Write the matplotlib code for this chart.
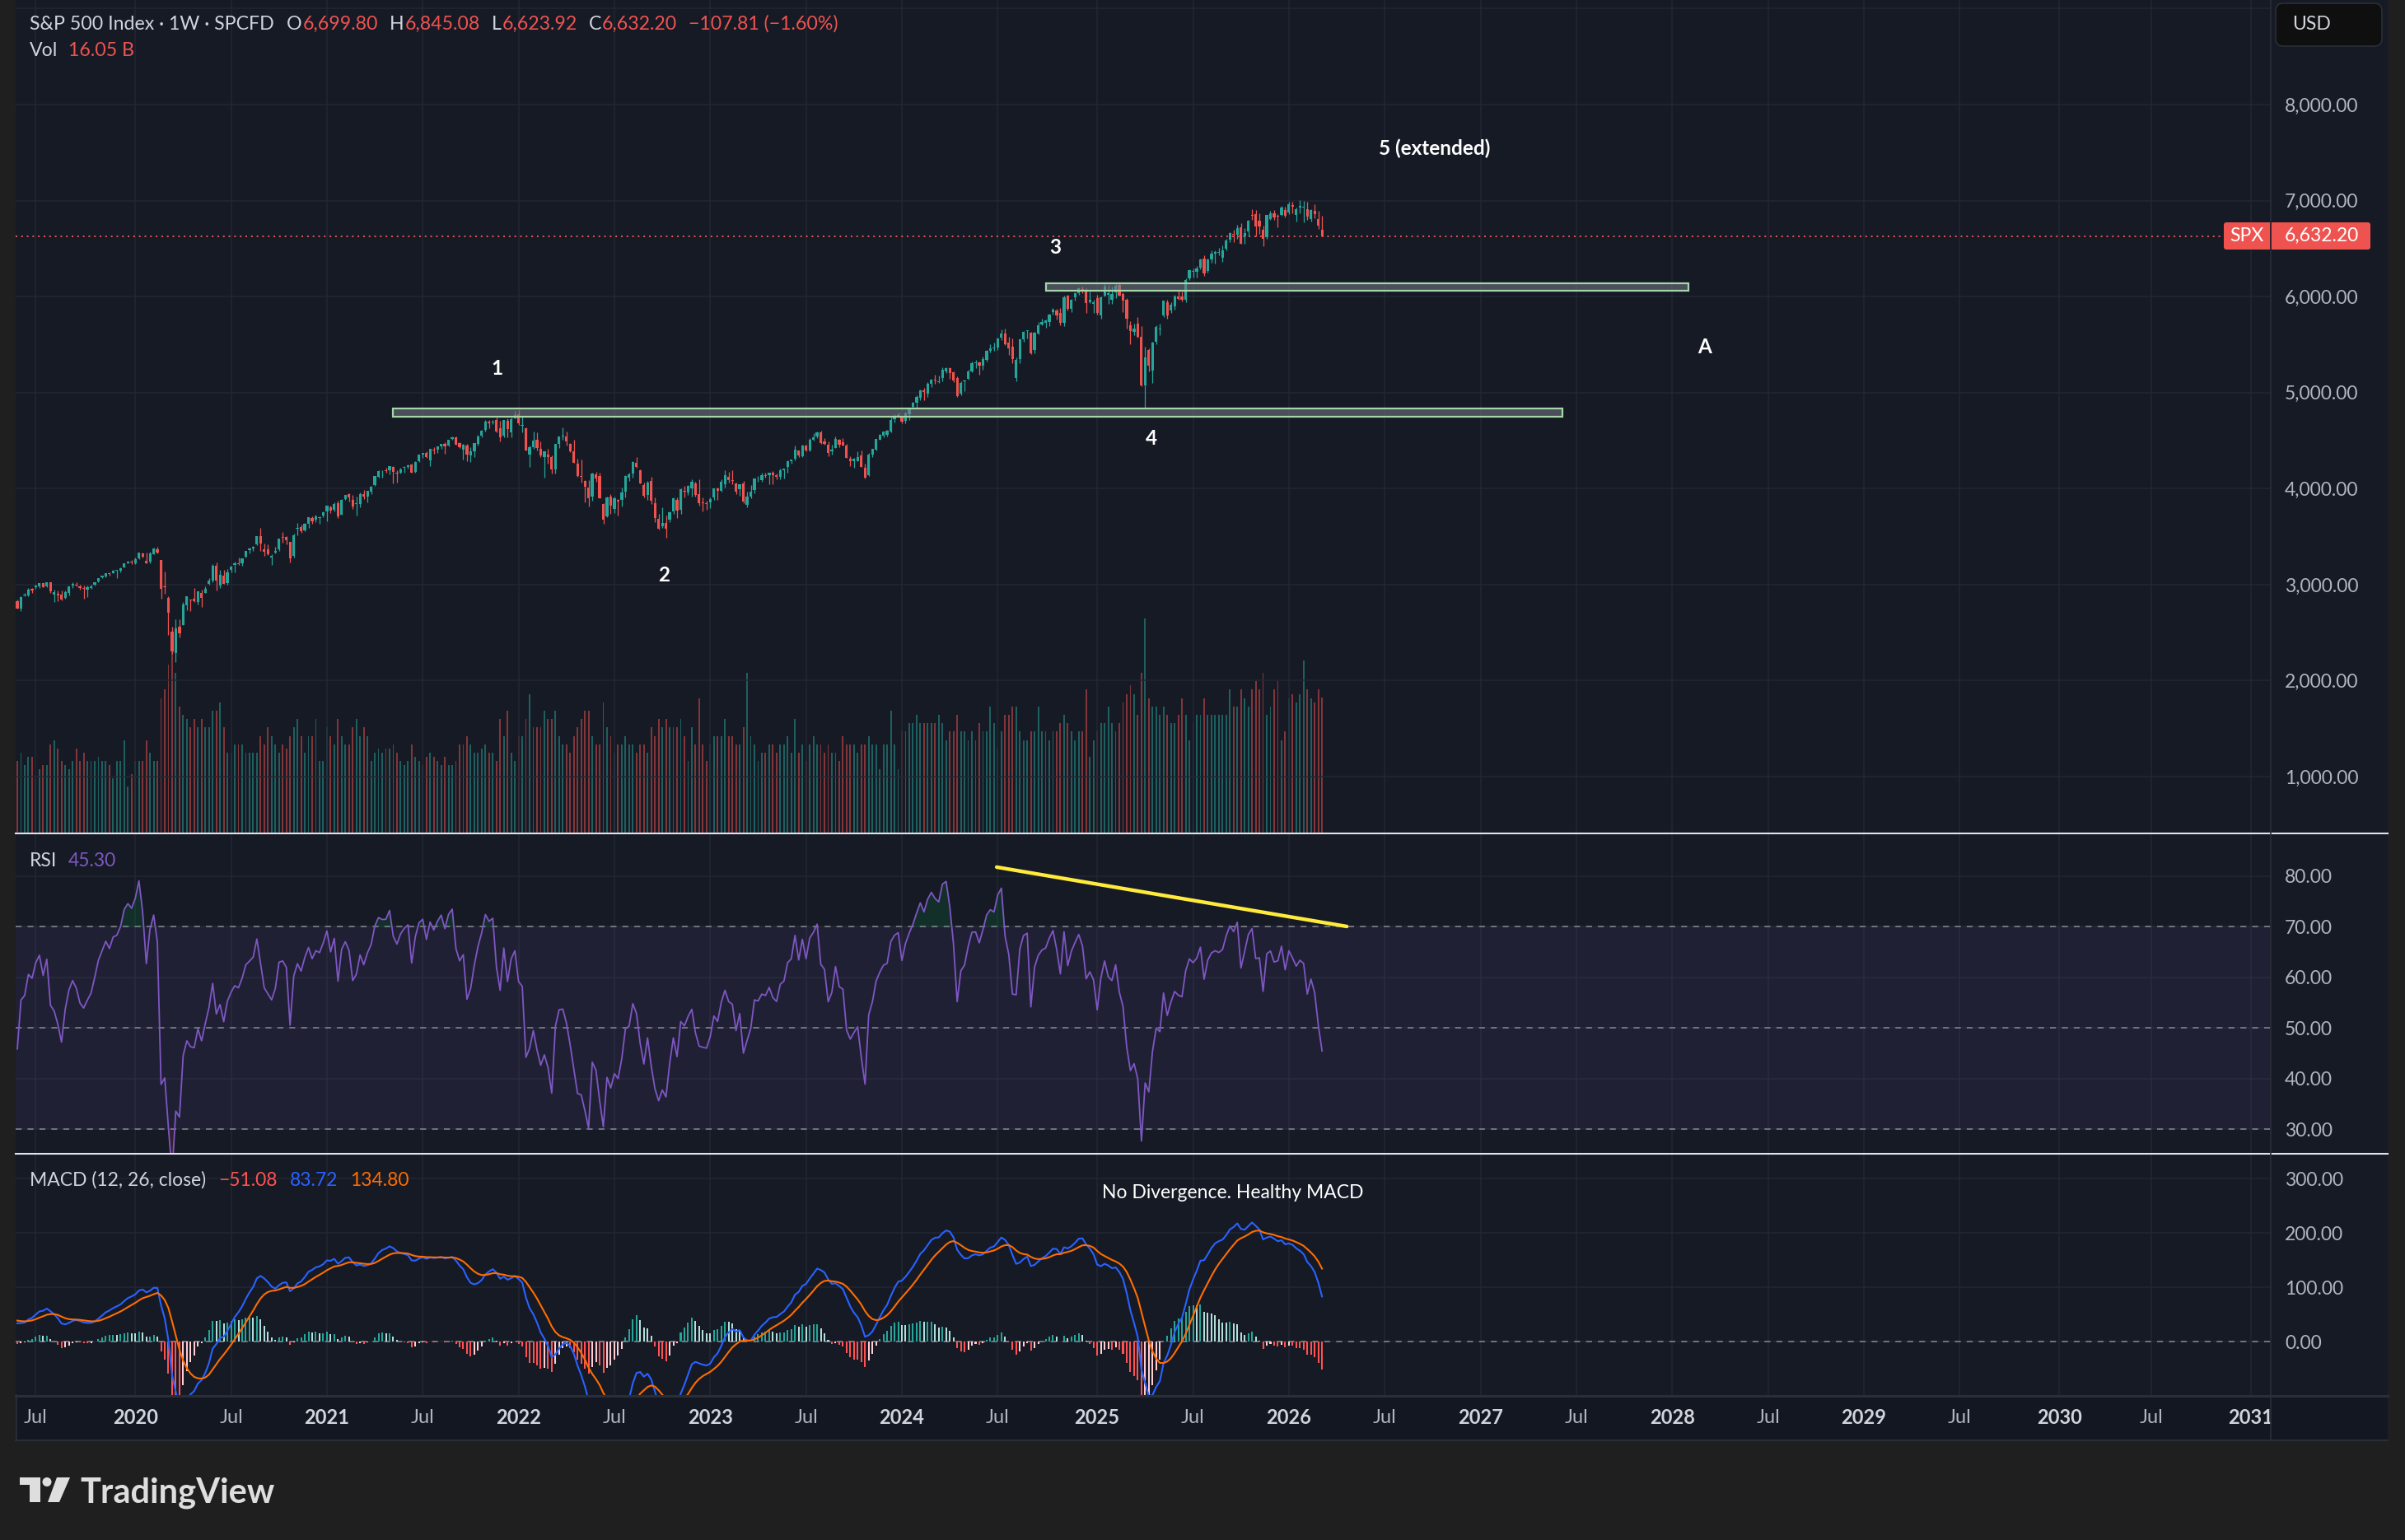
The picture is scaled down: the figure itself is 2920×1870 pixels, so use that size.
import numpy as np
import pandas as pd
import matplotlib
matplotlib.use("Agg")
import matplotlib.pyplot as plt
from matplotlib.patches import Rectangle, FancyBboxPatch, Polygon, Circle
from matplotlib.lines import Line2D
from matplotlib.transforms import IdentityTransform

# ---------------- data: S&P 500 weekly candles (week of 2019-05-27 .. 2026-03-09) ----------------
first_week = "2019-05-27"

# closes before the first visible bar, only used to seed RSI / MACD
warmup_close = [2743, 2786, 2810, 2873, 2762, 2620, 2732, 2747, 2691, 2786, 2752, 2588, 2641,
                2604, 2656, 2670, 2670, 2663, 2728, 2713, 2721, 2735, 2779, 2780, 2755, 2718,
                2760, 2801, 2802, 2819, 2840, 2833, 2850, 2875, 2902, 2872, 2905, 2930, 2914,
                2886, 2767, 2768, 2659, 2723, 2781, 2736, 2633, 2760, 2633, 2600, 2417, 2486,
                2532, 2596, 2671, 2665, 2707, 2708, 2776, 2793, 2804, 2743, 2822, 2800, 2834,
                2893, 2907, 2905, 2940, 2946, 2881, 2860, 2826]

opens = [2830, 2751, 2886, 2889, 2952, 2971, 2980, 3017, 2982, 3024,
         2898, 2907, 2900, 2866, 2910, 2988, 2996, 2984, 2967, 2944,
         2966, 2996, 3035, 3079, 3081, 3118, 3118, 3144, 3141, 3183,
         3225, 3240, 3218, 3271, 3321, 3248, 3236, 3318, 3370, 3257,
         2974, 2864, 2509, 2291, 2558, 2578, 2782, 2846, 2855, 2815,
         2915, 2913, 3004, 3038, 3199, 2993, 3094, 3018, 3155, 3205,
         3224, 3219, 3289, 3356, 3380, 3419, 3509, 3371, 3364, 3285,
         3334, 3367, 3500, 3494, 3441, 3296, 3583, 3600, 3566, 3634,
         3694, 3675, 3694, 3723, 3764, 3803, 3781, 3851, 3732, 3892,
         3939, 3886, 3842, 3844, 3942, 3916, 3969, 4034, 4124, 4179,
         4186, 4192, 4228, 4169, 4170, 4216, 4229, 4248, 4173, 4285,
         4356, 4372, 4296, 4409, 4406, 4437, 4462, 4451, 4514, 4535,
         4474, 4402, 4450, 4348, 4385, 4463, 4553, 4610, 4701, 4689,
         4712, 4628, 4548, 4710, 4588, 4733, 4778, 4655, 4632, 4357,
         4431, 4506, 4412, 4332, 4354, 4328, 4202, 4462, 4541, 4547,
         4462, 4385, 4256, 4130, 4081, 4013, 3920, 4151, 4134, 3838,
         3715, 3920, 3792, 3880, 3883, 3966, 4112, 4155, 4269, 4195,
         4034, 3930, 4084, 3849, 3682, 3610, 3640, 3677, 3764, 3882,
         3780, 3978, 3956, 4006, 4052, 3940, 3854, 3843, 3853, 3910,
         3999, 3978, 4050, 4119, 4091, 4052, 3992, 4055, 3835, 3917,
         3982, 4102, 4085, 4139, 4138, 4166, 4136, 4126, 4192, 4226,
         4282, 4308, 4397, 4337, 4450, 4394, 4505, 4543, 4585, 4491,
         4454, 4389, 4426, 4510, 4479, 4445, 4310, 4284, 4289, 4343,
         4220, 4139, 4358, 4406, 4513, 4554, 4564, 4593, 4725, 4758,
         4745, 4703, 4772, 4853, 4892, 4950, 5026, 4989, 5093, 5131,
         5111, 5154, 5219, 5258, 5212, 5149, 4988, 5114, 5142, 5221,
         5305, 5315, 5283, 5341, 5432, 5460, 5471, 5572, 5615, 5525,
         5477, 5151, 5353, 5557, 5640, 5624, 5442, 5615, 5711, 5726,
         5737, 5836, 5857, 5833, 5725, 6009, 5869, 5993, 6040, 6083,
         6063, 5940, 5921, 5982, 5805, 6014, 6017, 5970, 6046, 6121,
         6026, 5968, 5705, 5635, 5718, 5580, 5074, 5441, 5232, 5529,
         5655, 5808, 5940, 5854, 5897, 6005, 6004, 5970, 6193, 6259,
         6255, 6304, 6397, 6271, 6389, 6445, 6457, 6401, 6498, 6590,
         6657, 6646, 6721, 6627, 6676, 6842, 6860, 6790, 6700, 6620,
         6812, 6870, 6840, 6850, 6905, 6880, 6955, 6855, 6930, 6925,
         6915, 6810, 6895, 6810, 6699.80]

highs = [2841, 2876, 2910, 2964, 2961, 2996, 3014, 3018, 3028, 3029,
         2944, 2942, 2939, 2941, 2985, 3021, 3022, 3002, 2993, 2993,
         3000, 3027, 3070, 3097, 3120, 3128, 3154, 3150, 3183, 3226,
         3248, 3259, 3282, 3332, 3338, 3337, 3341, 3385, 3393, 3259,
         3137, 2883, 2562, 2637, 2641, 2819, 2880, 2847, 2965, 2932,
         2945, 2980, 3068, 3212, 3233, 3155, 3154, 3165, 3198, 3236,
         3280, 3272, 3352, 3387, 3399, 3509, 3588, 3425, 3419, 3320,
         3397, 3482, 3550, 3502, 3445, 3529, 3646, 3628, 3644, 3705,
         3712, 3726, 3711, 3760, 3827, 3823, 3861, 3870, 3890, 3937,
         3951, 3931, 3915, 3961, 3983, 3978, 4025, 4132, 4191, 4195,
         4219, 4238, 4236, 4188, 4214, 4234, 4249, 4262, 4286, 4355,
         4372, 4393, 4415, 4430, 4440, 4470, 4480, 4513, 4546, 4545,
         4487, 4466, 4466, 4429, 4475, 4559, 4608, 4718, 4714, 4718,
         4744, 4704, 4715, 4731, 4740, 4808, 4819, 4749, 4640, 4453,
         4595, 4590, 4490, 4390, 4416, 4343, 4466, 4546, 4637, 4594,
         4471, 4513, 4308, 4307, 4090, 4091, 4162, 4178, 4169, 3849,
         3916, 3946, 3918, 3895, 4013, 4140, 4167, 4283, 4325, 4203,
         4062, 4076, 4119, 3908, 3733, 3807, 3718, 3763, 3905, 3911,
         4001, 4028, 4034, 4100, 4068, 4101, 3906, 3878, 3906, 4004,
         4015, 4095, 4195, 4176, 4195, 4065, 4049, 4079, 3965, 4040,
         4110, 4133, 4164, 4170, 4170, 4187, 4154, 4213, 4213, 4291,
         4300, 4448, 4400, 4458, 4456, 4528, 4578, 4594, 4607, 4528,
         4490, 4458, 4542, 4515, 4527, 4466, 4338, 4317, 4386, 4394,
         4256, 4374, 4418, 4521, 4568, 4598, 4610, 4738, 4778, 4793,
         4755, 4802, 4845, 4907, 4975, 5032, 5048, 5111, 5140, 5190,
         5180, 5262, 5264, 5264, 5222, 5168, 5114, 5139, 5239, 5325,
         5342, 5320, 5376, 5447, 5506, 5524, 5570, 5655, 5670, 5585,
         5566, 5363, 5564, 5643, 5651, 5630, 5636, 5734, 5767, 5762,
         5823, 5878, 5870, 5878, 6012, 6018, 5972, 6044, 6099, 6101,
         6085, 6050, 5966, 6022, 6002, 6128, 6120, 6101, 6128, 6147,
         6044, 5987, 5745, 5715, 5787, 5695, 5481, 5460, 5528, 5700,
         5721, 5962, 5968, 5944, 6017, 6060, 6050, 6188, 6284, 6291,
         6316, 6395, 6428, 6395, 6481, 6482, 6508, 6533, 6601, 6671,
         6700, 6750, 6764, 6710, 6800, 6913, 6900, 6870, 6740, 6855,
         6895, 6901, 6860, 6945, 6940, 6985, 6990, 6925, 7002, 6997,
         6990, 6915, 6960, 6890, 6845.08]

lows = [2750, 2728, 2877, 2883, 2914, 2953, 2966, 2975, 2977, 2914,
        2822, 2825, 2834, 2853, 2891, 2964, 2985, 2946, 2856, 2874,
        2952, 2990, 3023, 3066, 3075, 3090, 3115, 3070, 3125, 3181,
        3223, 3211, 3214, 3264, 3279, 3222, 3226, 3316, 3328, 2855,
        2901, 2478, 2280, 2192, 2447, 2575, 2730, 2727, 2816, 2797,
        2766, 2910, 2999, 3026, 2936, 2966, 3004, 3001, 3128, 3128,
        3201, 3200, 3284, 3327, 3355, 3410, 3349, 3297, 3305, 3209,
        3323, 3354, 3440, 3419, 3233, 3280, 3511, 3543, 3558, 3594,
        3634, 3648, 3636, 3703, 3663, 3749, 3760, 3694, 3725, 3884,
        3866, 3789, 3724, 3805, 3889, 3853, 3943, 4030, 4118, 4118,
        4168, 4152, 4056, 4062, 4156, 4168, 4213, 4165, 4165, 4278,
        4321, 4321, 4233, 4367, 4368, 4416, 4367, 4439, 4510, 4457,
        4427, 4306, 4289, 4278, 4329, 4447, 4537, 4595, 4630, 4672,
        4585, 4495, 4532, 4531, 4531, 4728, 4662, 4582, 4395, 4222,
        4414, 4401, 4327, 4115, 4262, 4157, 4161, 4424, 4507, 4451,
        4381, 4267, 4125, 4062, 3859, 3810, 3876, 4074, 3898, 3636,
        3705, 3738, 3742, 3722, 3818, 3910, 4080, 4112, 4218, 4055,
        3907, 3886, 3837, 3648, 3572, 3590, 3492, 3647, 3735, 3698,
        3735, 3906, 3938, 3919, 3918, 3827, 3764, 3783, 3795, 3887,
        3885, 3966, 4015, 4061, 4047, 3944, 3928, 3847, 3809, 3901,
        3952, 4069, 4072, 4114, 4049, 4048, 4099, 4099, 4103, 4166,
        4260, 4291, 4328, 4328, 4385, 4390, 4500, 4526, 4464, 4458,
        4335, 4356, 4419, 4431, 4448, 4316, 4238, 4216, 4283, 4222,
        4104, 4128, 4330, 4394, 4511, 4537, 4546, 4590, 4693, 4751,
        4682, 4682, 4714, 4844, 4845, 4918, 4920, 4953, 5057, 5095,
        5105, 5118, 5204, 5146, 5108, 4953, 4971, 5011, 5138, 5211,
        5257, 5191, 5234, 5325, 5420, 5433, 5448, 5546, 5497, 5390,
        5306, 5120, 5306, 5534, 5561, 5402, 5406, 5608, 5699, 5675,
        5696, 5809, 5762, 5703, 5697, 5853, 5835, 5963, 6021, 6032,
        5833, 5932, 5829, 5809, 5773, 6004, 5923, 5923, 5987, 6009,
        5837, 5667, 5505, 5597, 5572, 5069, 4835, 5220, 5101, 5506,
        5598, 5786, 5768, 5831, 5861, 5964, 5953, 5944, 6174, 6201,
        6201, 6281, 6212, 6250, 6353, 6343, 6427, 6360, 6478, 6568,
        6570, 6600, 6550, 6550, 6630, 6800, 6631, 6650, 6521, 6600,
        6800, 6800, 6720, 6840, 6825, 6860, 6870, 6780, 6870, 6775,
        6800, 6780, 6820, 6705, 6623.92]

closes = [2752, 2873, 2887, 2950, 2942, 2990, 3014, 2977, 3026, 2932,
          2919, 2889, 2847, 2926, 2979, 3007, 2992, 2962, 2952, 2970,
          2986, 3023, 3067, 3093, 3120, 3110, 3141, 3146, 3169, 3221,
          3240, 3235, 3265, 3330, 3295, 3226, 3328, 3380, 3338, 2954,
          2972, 2711, 2305, 2541, 2489, 2790, 2875, 2837, 2831, 2930,
          2864, 2955, 3044, 3194, 3041, 3098, 3009, 3130, 3185, 3225,
          3216, 3271, 3351, 3373, 3397, 3508, 3427, 3341, 3319, 3298,
          3348, 3477, 3484, 3465, 3270, 3510, 3585, 3558, 3638, 3699,
          3663, 3709, 3703, 3756, 3825, 3768, 3841, 3714, 3887, 3934,
          3907, 3811, 3842, 3943, 3913, 3975, 4020, 4129, 4185, 4180,
          4181, 4233, 4174, 4156, 4204, 4230, 4247, 4166, 4281, 4352,
          4370, 4327, 4412, 4395, 4437, 4468, 4442, 4509, 4535, 4459,
          4433, 4455, 4357, 4391, 4471, 4545, 4605, 4697, 4683, 4698,
          4595, 4538, 4712, 4620, 4725, 4766, 4677, 4663, 4398, 4432,
          4500, 4419, 4349, 4385, 4329, 4204, 4463, 4543, 4546, 4488,
          4393, 4272, 4132, 4123, 4024, 3901, 4158, 4109, 3901, 3675,
          3912, 3825, 3899, 3863, 3962, 4130, 4145, 4280, 4228, 4058,
          3924, 4067, 3873, 3693, 3586, 3640, 3583, 3753, 3901, 3771,
          3993, 3965, 4026, 4072, 3934, 3852, 3845, 3840, 3895, 3999,
          3973, 4071, 4136, 4090, 4079, 3970, 4046, 3862, 3917, 3971,
          4109, 4105, 4138, 4133, 4169, 4136, 4124, 4192, 4205, 4282,
          4299, 4410, 4348, 4450, 4399, 4505, 4536, 4582, 4478, 4464,
          4370, 4406, 4516, 4457, 4450, 4320, 4288, 4309, 4327, 4224,
          4117, 4358, 4415, 4514, 4559, 4595, 4604, 4719, 4755, 4770,
          4697, 4784, 4840, 4891, 4959, 5027, 5006, 5089, 5137, 5124,
          5117, 5234, 5254, 5204, 5123, 4967, 5100, 5128, 5223, 5303,
          5305, 5278, 5347, 5432, 5465, 5460, 5567, 5615, 5505, 5459,
          5346, 5344, 5554, 5634, 5648, 5408, 5626, 5703, 5738, 5751,
          5815, 5865, 5808, 5729, 5995, 5870, 5969, 6032, 6090, 6051,
          5931, 5971, 5942, 5827, 5997, 6101, 6040, 6026, 6115, 6013,
          5955, 5770, 5639, 5668, 5581, 5074, 5363, 5283, 5525, 5686,
          5660, 5958, 5803, 5912, 6000, 5977, 5968, 6173, 6279, 6260,
          6297, 6389, 6238, 6389, 6450, 6467, 6460, 6482, 6584, 6664,
          6644, 6716, 6553, 6664, 6792, 6840, 6729, 6734, 6603, 6849,
          6870, 6827, 6835, 6930, 6845, 6966, 6940, 6912, 6945, 6935,
          6835, 6905, 6860, 6740.01, 6632.20]

# weekly volume, billions
volumes = [8.5, 9.5, 8.0, 9.0, 9.0, 6.5, 7.5, 8.0, 8.0, 10.5,
           11.0, 10.0, 8.5, 8.0, 7.5, 8.5, 10.0, 8.5, 9.5, 8.5,
           8.5, 8.5, 9.0, 8.5, 8.5, 8.0, 6.5, 8.5, 8.5, 11.0,
           5.5, 7.0, 8.5, 8.5, 8.5, 11.0, 9.5, 8.5, 8.5, 16.0,
           17.0, 20.0, 22.0, 19.0, 15.0, 14.0, 13.5, 12.5, 13.5, 12.5,
           13.5, 12.5, 12.5, 14.5, 14.5, 15.5, 12.5, 9.5, 9.5, 10.5,
           10.5, 10.5, 9.5, 9.5, 9.5, 9.5, 11.5, 10.5, 12.5, 11.5,
           10.5, 9.5, 10.5, 10.0, 11.5, 12.5, 13.5, 11.5, 9.5, 11.5,
           11.5, 13.5, 8.5, 8.5, 12.5, 11.5, 10.5, 13.5, 11.5, 10.5,
           10.5, 12.5, 13.5, 11.5, 12.5, 11.5, 8.5, 9.5, 10.0, 9.5,
           10.0, 10.0, 10.5, 9.5, 8.5, 8.0, 8.5, 10.5, 9.0, 8.5,
           8.0, 9.0, 9.5, 9.0, 8.5, 8.0, 9.0, 8.0, 8.0, 8.5,
           10.5, 10.5, 11.5, 10.5, 9.5, 9.5, 10.0, 10.5, 9.5, 9.5,
           8.5, 13.5, 11.5, 14.5, 9.5, 8.5, 11.5, 11.5, 13.5, 16.5,
           12.5, 12.5, 12.5, 14.5, 13.5, 13.5, 14.5, 11.5, 10.5, 10.5,
           9.5, 11.5, 12.5, 13.5, 14.5, 14.5, 11.5, 10.5, 10.5, 15.5,
           12.5, 11.5, 9.5, 10.5, 10.5, 11.5, 10.5, 10.5, 9.5, 10.5,
           10.5, 9.5, 12.5, 11.5, 13.5, 12.5, 13.5, 12.5, 12.5, 12.5,
           13.5, 11.5, 8.5, 12.5, 10.5, 16.0, 10.5, 8.5, 10.5, 11.5,
           11.5, 11.5, 13.5, 11.5, 11.5, 10.5, 10.5, 12.5, 19.0, 11.5,
           10.5, 8.5, 9.5, 9.5, 10.5, 10.5, 9.5, 10.5, 10.5, 11.5,
           9.5, 13.5, 9.5, 10.5, 8.5, 10.5, 11.5, 10.5, 10.5, 9.5,
           10.5, 9.5, 9.5, 8.5, 11.5, 10.5, 10.5, 10.5, 9.5, 10.5,
           10.5, 11.5, 10.5, 10.5, 7.5, 10.5, 10.5, 14.5, 10.5, 7.5,
           12.0, 12.0, 13.0, 13.0, 14.0, 13.0, 13.0, 13.0, 13.0, 13.0,
           14.0, 13.0, 11.0, 12.0, 12.0, 14.0, 12.0, 12.0, 11.0, 12.0,
           11.0, 13.0, 12.0, 12.0, 15.0, 13.0, 10.0, 12.0, 14.0, 14.0,
           15.0, 15.0, 12.0, 11.0, 11.0, 12.0, 12.0, 15.0, 12.0, 12.0,
           11.0, 12.0, 12.0, 13.0, 14.0, 13.0, 12.0, 11.0, 12.0, 12.0,
           17.0, 9.0, 11.0, 12.0, 13.0, 13.0, 15.0, 13.0, 12.0, 13.0,
           15.5, 16.5, 17.5, 16.5, 14.0, 19.0, 25.5, 16.0, 15.0, 15.0,
           14.0, 15.0, 14.0, 13.0, 13.0, 14.0, 16.0, 14.0, 11.0, 13.0,
           14.0, 14.0, 16.0, 14.0, 14.0, 14.0, 14.0, 14.0, 14.0, 17.0,
           15.0, 15.0, 17.0, 16.0, 15.0, 17.0, 18.0, 17.0, 19.0, 14.0,
           15.0, 17.0, 18.0, 11.0, 12.0, 16.0, 16.5, 15.5, 16.5, 20.5,
           17.0, 16.0, 15.5, 17.0, 16.05]

for name, arr in [("opens", opens), ("highs", highs), ("lows", lows), ("volumes", volumes)]:
    if len(arr) != len(closes):
        raise SystemExit(f"{name} has {len(arr)} values, closes has {len(closes)}")

# legend readings shown in the indicator headers
rsi_reading = 45.30
macd_reading = (-51.08, 83.72, 134.80)   # histogram, macd, signal

# drawings
zones = [("2021-05-09", "2027-06-08", 4752, 4832),
         ("2024-09-30", "2028-02-03", 6060, 6135)]
wave_labels = [("1", "2021-11-23", 5255), ("2", "2022-10-06", 3102), ("3", "2024-10-18", 6508),
               ("4", "2025-04-19", 4518), ("5 (extended)", "2026-10-08", 7546), ("A", "2028-03-05", 5470)]
rsi_trend = [("2024-06-29", 81.8), ("2026-04-25", 70.07)]
macd_note = ("No Divergence. Healthy MACD", "2025-09-21", 273)

price_ticks = [1000, 2000, 3000, 4000, 5000, 6000, 7000, 8000, 9000]
rsi_ticks = [30, 40, 50, 60, 70, 80]
macd_ticks = [0, 100, 200, 300]

# ---------------- colours ----------------
BG = "#1f1f1f"
PANE = "#161a25"
TAX = "#131722"
GRID = "#232733"
TXT = "#b2b5be"
LIGHT = "#d1d4dc"
UP = "#26a69a"
DN = "#ef5350"
PURPLE = "#7e57c2"
BLUE = "#2962ff"
ORANGE = "#ff6d00"

plt.rcParams["font.family"] = ["Lato", "DejaVu Sans"]

W, H = 2920, 1870
start = pd.Timestamp(first_week)
n = len(closes)
x = np.arange(n)
xl = (-0.45, 611.4)


def to_idx(d):
    return (pd.Timestamp(d) - start).days / 7.0


o = np.array(opens, float)
h = np.array(highs, float)
l = np.array(lows, float)
c = np.array(closes, float)
v = np.array(volumes, float)

# ---------------- indicators ----------------
allc = pd.Series(warmup_close + closes, dtype=float)
d = allc.diff()
avg_up = d.clip(lower=0).ewm(alpha=1 / 14, adjust=False).mean()
avg_dn = (-d).clip(lower=0).ewm(alpha=1 / 14, adjust=False).mean()
rsi = (100 - 100 / (1 + avg_up / avg_dn)).values[-n:]
macd_s = allc.ewm(span=12, adjust=False).mean() - allc.ewm(span=26, adjust=False).mean()
sig_s = macd_s.ewm(span=9, adjust=False).mean()
hist_s = macd_s - sig_s
hist_prev = hist_s.shift(1).values[-n:]
macd = macd_s.values[-n:]
sig = sig_s.values[-n:]
hist = hist_s.values[-n:]

# ---------------- time ticks (first weekly bar of January / July) ----------------
all_weeks = pd.date_range(start, periods=640, freq="7D")
tick_idx, tick_lab = [], []
for i in range(1, len(all_weeks)):
    m = all_weeks[i].month
    if m != all_weeks[i - 1].month and m in (1, 7) and i < xl[1]:
        tick_idx.append(i)
        tick_lab.append(str(all_weeks[i].year) if m == 1 else "Jul")

# ---------------- figure ----------------
fig = plt.figure(figsize=(W / 100, H / 100), dpi=100, facecolor=BG)
ID = IdentityTransform()


def rect(x0, y0, x1, y1):
    return [x0 / W, 1 - y1 / H, (x1 - x0) / W, (y1 - y0) / H]


fig.add_artist(Rectangle((19, H - 1749), 2899 - 19, 1749, transform=ID, facecolor=PANE,
                         edgecolor="none", zorder=-10))
fig.add_artist(Rectangle((19, H - 1749), 2899 - 19, 1749 - 1694, transform=ID, facecolor=TAX,
                         edgecolor="none", zorder=-9))

ax_p = fig.add_axes(rect(19, 0, 2757, 1011))
ax_v = ax_p.twinx()
ax_r = fig.add_axes(rect(19, 1013, 2757, 1400))
ax_m = fig.add_axes(rect(19, 1402, 2757, 1694))
ax_t = fig.add_axes(rect(19, 1694, 2757, 1749))

ax_v.set_zorder(1)
ax_p.set_zorder(2)


def style(ax, ticks, labels):
    ax.patch.set_visible(False)
    for s in ax.spines.values():
        s.set_visible(False)
    ax.set_xticks(tick_idx)
    ax.set_yticks(ticks)
    ax.set_yticklabels(labels)
    ax.set_xlim(xl)
    ax.yaxis.tick_right()
    ax.tick_params(axis="x", length=0, labelbottom=False)
    ax.tick_params(axis="y", length=0, labelcolor=TXT, labelsize=16.5, pad=12.2)
    ax.grid(True, color=GRID, lw=1.1)
    ax.set_axisbelow(True)


style(ax_p, price_ticks, [f"{t:,.2f}" if t < 9000 else "" for t in price_ticks])
style(ax_r, rsi_ticks, [f"{t:.2f}" for t in rsi_ticks])
style(ax_m, macd_ticks, [f"{t:.2f}" for t in macd_ticks])

# ---- price pane ----
ax_p.set_ylim(417, 9090)
up = c >= o
col = np.where(up, UP, DN)
ax_p.vlines(x, l, h, colors=col, lw=0.9, zorder=3)
ax_p.bar(x, np.maximum(np.abs(c - o), 8), bottom=np.minimum(o, c), width=0.72, color=col,
         lw=0, zorder=4)
for z0, z1, p0, p1 in zones:
    ax_p.add_patch(Rectangle((to_idx(z0), p0), to_idx(z1) - to_idx(z0), p1 - p0,
                             facecolor="#787b86", alpha=0.55, edgecolor="none", zorder=5))
    ax_p.add_patch(Rectangle((to_idx(z0), p0), to_idx(z1) - to_idx(z0), p1 - p0,
                             facecolor="none", edgecolor="#a5d6a7", lw=1.6, zorder=5))
ax_p.axhline(c[-1], color=DN, lw=1.4, ls=(0, (1, 2.5)), zorder=2)
for txt, dt, pr in wave_labels:
    ax_p.text(to_idx(dt), pr, txt, color="white", fontsize=17.5, fontweight="bold",
              ha="center", va="center", zorder=6)

# volume overlay
ax_v.set_ylim(0, 99)
ax_v.set_xlim(xl)
ax_v.axis("off")
vcol = np.where(up, "#26a69a", "#ef5350")
ax_v.bar(x, v, width=0.42, color=vcol, alpha=0.5, lw=0)

# ---- RSI pane ----
ax_r.set_ylim(25.3, 88.3)
ax_r.axhspan(30, 70, color=PURPLE, alpha=0.1, lw=0, zorder=1)
for lv in (70, 50, 30):
    ax_r.axhline(lv, color="#787b86", lw=1.3, ls=(0, (4, 4)), zorder=2)
ax_r.fill_between(x, 70, rsi, where=rsi > 70, interpolate=True, color="#00c853", alpha=0.12,
                  lw=0, zorder=2)
ax_r.fill_between(x, 30, rsi, where=rsi < 30, interpolate=True, color="#ff5252", alpha=0.12,
                  lw=0, zorder=2)
ax_r.plot(x, rsi, color=PURPLE, lw=1.3, zorder=3)
(t0, r0), (t1, r1) = rsi_trend
ax_r.plot([to_idx(t0), to_idx(t1)], [r0, r1], color="#ffeb3b", lw=3.2, solid_capstyle="round",
          zorder=4)

# ---- MACD pane ----
ax_m.set_ylim(-98.5, 344)
ax_m.axhline(0, color="#787b86", lw=1.3, ls=(0, (4, 4)), zorder=1)
hcol = np.where(hist >= 0, np.where(hist > hist_prev, "#26a69a", "#b2dfdb"),
                np.where(hist > hist_prev, "#ffcdd2", "#ff5252"))
ax_m.bar(x, hist, width=0.45, color=hcol, lw=0, zorder=2)
ax_m.plot(x, macd, color=BLUE, lw=1.5, zorder=3)
ax_m.plot(x, sig, color=ORANGE, lw=1.5, zorder=3)
ax_m.text(to_idx(macd_note[1]), macd_note[2], macd_note[0], color="white", fontsize=16.5,
          ha="center", va="center", zorder=5)

for ax in (ax_p, ax_r, ax_m):
    ax.set_xlim(xl)

# ---- time axis ----
ax_t.set_xlim(xl)
ax_t.set_ylim(0, 1)
ax_t.axis("off")
for ti, tl in zip(tick_idx, tick_lab):
    yr = tl != "Jul"
    ax_t.text(ti, 0.5, tl, color=LIGHT if yr else TXT, fontsize=17,
              fontweight="bold" if yr else "normal", ha="center", va="center", clip_on=True)


# ---- frame lines ----
def hline(y, x0, x1, color, lw):
    fig.add_artist(Line2D([x0, x1], [H - y, H - y], transform=ID, color=color, lw=lw, zorder=8))


def vline(xp, y0, y1, color, lw):
    fig.add_artist(Line2D([xp, xp], [H - y0, H - y1], transform=ID, color=color, lw=lw, zorder=8))


hline(1012, 19, 2899, "#e0e3eb", 1.5)
hline(1401, 19, 2899, "#e0e3eb", 1.5)
hline(1694.5, 19, 2899, "#2a2e39", 2.2)
hline(1749, 19, 2899, "#2a2e39", 1.5)
vline(2757, 0, 1749, "#2a2e39", 1.2)
vline(19.5, 1694, 1749, "#2a2e39", 1.2)

# ---- price tag / currency button ----
yp = ax_p.transData.transform((0, c[-1]))[1]
fig.add_artist(FancyBboxPatch((2700, yp - 16.5), 2878 - 2700, 33, transform=ID,
                              boxstyle="round,pad=0,rounding_size=3", facecolor=DN,
                              edgecolor="none", zorder=9))
fig.add_artist(Line2D([2757, 2757], [yp - 16.5, yp + 16.5], transform=ID, color=PANE, lw=1.2,
                      zorder=10))
fig.text(2728, yp, "SPX", color="white", fontsize=16.5, ha="center", va="center",
         transform=ID, zorder=11)
fig.text(2774, yp, f"{c[-1]:,.2f}", color="white", fontsize=16.5, ha="left", va="center",
         transform=ID, zorder=11)
fig.add_artist(FancyBboxPatch((2763, H - 56), 2892 - 2763, 52, transform=ID,
                              boxstyle="round,pad=0,rounding_size=9", facecolor="#0f0f0f",
                              edgecolor="#2a2e39", lw=1.2, zorder=9))
fig.text(2783, H - 30, "USD", color=LIGHT, fontsize=16.5, ha="left", va="center",
         transform=ID, zorder=11)

# ---- legends ----
renderer = fig.canvas.get_renderer()


def run(xp, yp_top, pieces, size=16.5):
    for s, colr, gap in pieces:
        t = fig.text(xp, H - yp_top, s, color=colr, fontsize=size, ha="left", va="center",
                     transform=ID, zorder=11)
        xp += t.get_window_extent(renderer).width + gap


chg = c[-1] - c[-2]
pct = chg / c[-2] * 100
sgn = "−" if chg < 0 else "+"
run(36, 29, [("S&P 500 Index · 1W · SPCFD", LIGHT, 15),
             ("O", LIGHT, 1), (f"{o[-1]:,.2f}", DN, 14),
             ("H", LIGHT, 1), (f"{h[-1]:,.2f}", DN, 14),
             ("L", LIGHT, 1), (f"{l[-1]:,.2f}", DN, 14),
             ("C", LIGHT, 1), (f"{c[-1]:,.2f}", DN, 14),
             (f"{sgn}{abs(chg):,.2f} ({sgn}{abs(pct):.2f}%)", DN, 0)], size=16.7)
run(36, 61, [("Vol", LIGHT, 13), (f"{v[-1]:.2f} B", DN, 0)], size=16.7)
run(36, 1045, [("RSI", LIGHT, 13), (f"{rsi_reading:.2f}", PURPLE, 0)])
hv, mv, sv = macd_reading
run(36, 1433, [("MACD (12, 26, close)", LIGHT, 15),
               (f"{'−' if hv < 0 else ''}{abs(hv):.2f}", "#ff5252", 15),
               (f"{mv:.2f}", BLUE, 15), (f"{sv:.2f}", ORANGE, 0)])

# ---- TradingView logo ----
LOGO = "#dedede"
fig.add_artist(Polygon([(24, H - 1794), (49, H - 1794), (49, H - 1824), (36, H - 1824),
                        (36, H - 1803), (24, H - 1803)], closed=True, transform=ID,
                       facecolor=LOGO, edgecolor="none", zorder=9))
fig.add_artist(Circle((57, H - 1799.5), 5.5, transform=ID, facecolor=LOGO, edgecolor="none",
                      zorder=9))
fig.add_artist(Polygon([(69, H - 1794), (85, H - 1794), (72, H - 1824), (58, H - 1824)],
                       closed=True, transform=ID, facecolor=LOGO, edgecolor="none", zorder=9))
fig.text(97, H - 1824, "TradingView", color=LOGO, fontsize=30, fontweight="bold",
         ha="left", va="baseline", transform=ID, zorder=9)

fig.savefig("out.png", dpi=100, facecolor=BG)
